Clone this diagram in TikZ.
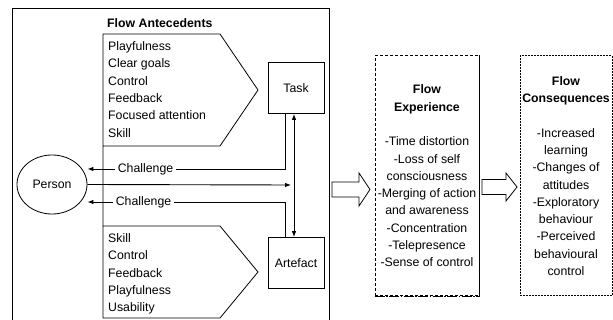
\documentclass[tikz,border=0pt]{standalone}
\usepackage{fontspec}
\setmainfont{Liberation Sans}
\usetikzlibrary{shapes.geometric,arrows.meta}

\begin{document}
\begin{tikzpicture}[x=1pt,y=-1pt,
    every node/.style={font=\fontsize{12.3}{17.3}\selectfont},
    box/.style={draw,line width=0.8pt,minimum width=56pt,minimum height=51pt},
    chal/.style={inner sep=3pt},
    flowbox/.style={draw,line width=1pt,align=center,minimum height=240pt,inner sep=0pt},
    >={Latex[length=6pt,width=4.5pt]}]

    \useasboundingbox (0,0) rectangle (613,320);

    % antecedents panel
    \draw[line width=0.8pt] (12,320) -- (12,8) -- (329,8) -- (329,320);
    \node[anchor=west,inner sep=0pt,font=\bfseries\fontsize{12.3}{17.3}\selectfont] (ant) at (107,23) {Flow Antecedents};

    \draw[line width=0.8pt] (103,226) -- (103,34) -- (220,34) -- (258,90) -- (220,146) -- (103,146);
    \draw[line width=0.8pt] (103,226) -- (220,226) -- (258,272) -- (220,318) -- (103,318) -- cycle;

    \node[anchor=north west,align=left,inner sep=0pt] (antA) at (108,41.5)
        {Playfulness\\Clear goals\\Control\\Feedback\\Focused attention\\Skill};
    \node[anchor=north west,align=left,inner sep=0pt] (antB) at (108,233.5)
        {Skill\\Control\\Feedback\\Playfulness\\Usability};

    \node[draw,ellipse,line width=0.8pt,minimum width=70pt,minimum height=59pt,inner sep=0pt] (person) at (52,184.5) {Person};
    \node[box] (task) at (296,88) {Task};
    \node[box] (artefact) at (296,263) {Artefact};

    \coordinate (hub) at (291,185);
    \node[chal] (chalA) at (145.5,169) {Challenge};
    \node[chal] (chalB) at (143.5,202) {Challenge};

    \draw[line width=0.8pt] ([xshift=-11pt]task.south) |- (chalA.east);
    \draw[->,line width=0.9pt] (chalA.west) -- (chalA.west -| person.east);
    \draw[line width=0.8pt] ([xshift=-11pt]artefact.north) |- (chalB.east);
    \draw[->,line width=0.9pt] (chalB.west) -- (chalB.west -| person.east);
    \draw[->,line width=0.9pt] (person.east) -- (hub);
    \draw[<->,line width=0.9pt] ([xshift=-2pt]task.south) -- ([xshift=-2pt]artefact.north);

    % experience and consequences
    \draw[line width=0.8pt] (332,182) -- (359,182) -- (359,173) -- (370,189.5) -- (359,206) -- (359,197) -- (332,197) -- cycle;
    \node[flowbox,densely dashed,minimum width=104pt] (exp) at (427,176)
        {\textbf{Flow}\\\textbf{Experience}\\[17.3pt]-Time distortion\\-Loss of self\\consciousness\\-Merging of action\\and awareness\\-Concentration\\-Telepresence\\-Sense of control};
    \draw[line width=1.5pt] (exp.north east) -- (exp.south east);
    \draw[line width=1.5pt,dash pattern=on 10pt off 1.5pt on 1.5pt off 1.5pt] (exp.south west) -- (exp.south east);

    \draw[line width=0.8pt] (482,179.5) -- (506,179.5) -- (506,173) -- (517,187) -- (506,201) -- (506,194.5) -- (482,194.5) -- cycle;
    \node[flowbox,dash pattern=on 2pt off 1pt,minimum width=92pt] (cons) at (566,176)
        {\textbf{Flow}\\\textbf{Consequences}\\[17.3pt]-Increased\\learning\\-Changes of\\attitudes\\-Exploratory\\behaviour\\-Perceived\\behavioural\\control};

\end{tikzpicture}
\end{document}
